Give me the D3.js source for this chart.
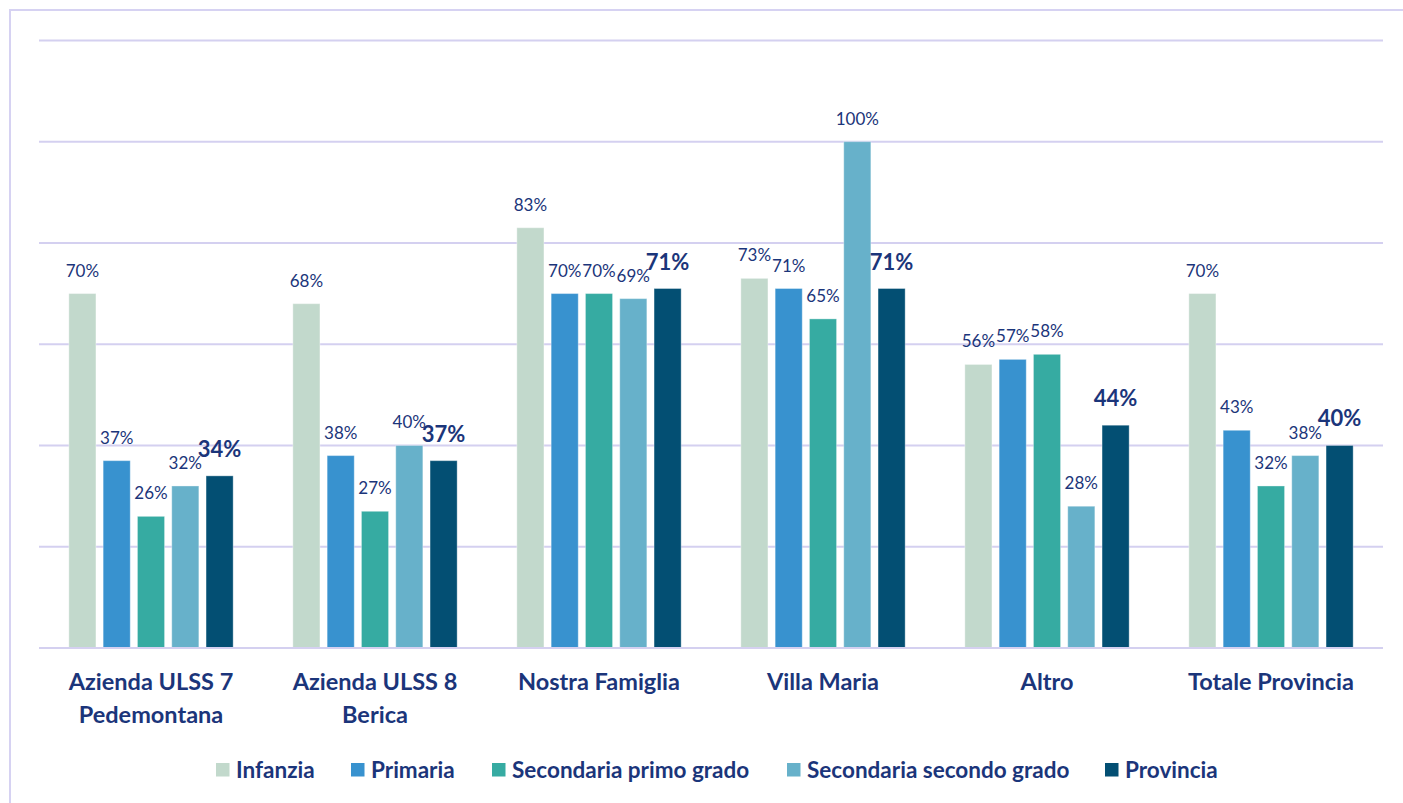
<!DOCTYPE html>
<html><head><meta charset="utf-8">
<script src="https://cdn.jsdelivr.net/npm/d3@7"></script>
<style>
html,body{margin:0;padding:0;background:#fff;}
svg{display:block;font-family:Lato,"Open Sans",sans-serif;}
</style></head>
<body><svg id="c" width="1403" height="803"></svg>
<script>
const categories = [["Azienda ULSS 7","Pedemontana"],["Azienda ULSS 8","Berica"],["Nostra Famiglia"],["Villa Maria"],["Altro"],["Totale Provincia"]];
const seriesNames = ["Infanzia","Primaria","Secondaria primo grado","Secondaria secondo grado","Provincia"];
const infanzia = [70,68,83,73,56,70];
const primaria = [37,38,70,71,57,43];
const secPrimo = [26,27,70,65,58,32];
const secSecondo = [32,40,69,100,28,38];
const provincia = [34,37,71,71,44,40];
const gridTicks = [0,20,40,60,80,100,120];
const colors = ["#c2d9cc","#3892cf","#36aba2","#67b1ca","#034f73"];
const textColor = "#1b357a";

const seriesValues = [infanzia, primaria, secPrimo, secSecondo, provincia];
const svg = d3.select("#c");

// frame
svg.append("path").attr("d","M10,803 L10,10 L1403,10").attr("fill","none").attr("stroke","#d6d2f2").attr("stroke-width",2);

const x0 = d3.scaleBand().domain(d3.range(categories.length)).range([39,1383]).paddingInner(0).paddingOuter(0);
const x1 = d3.scaleBand().domain(d3.range(seriesNames.length)).range([0, x0.bandwidth()]).paddingInner(0.21).paddingOuter(0.87);
const y = d3.scaleLinear().domain([0,120]).range([648,40.4]);

// grid
svg.append("g").selectAll("line").data(gridTicks).join("line")
  .attr("x1",39).attr("x2",1383).attr("y1",d=>y(d)).attr("y2",d=>y(d))
  .attr("stroke","#d4d0f0").attr("stroke-width",2);

const data = [];
categories.forEach((c,i)=>seriesValues.forEach((s,j)=>data.push({i,j,v:s[i]})));

svg.append("g").selectAll("rect").data(data).join("rect")
  .attr("x",d=>x0(d.i)+x1(d.j)).attr("width",x1.bandwidth())
  .attr("y",d=>y(d.v)).attr("height",d=>y(0)-y(d.v))
  .attr("fill",d=>colors[d.j]).attr("stroke","#ffffff").attr("stroke-opacity",0.35).attr("stroke-width",1);

svg.append("line").attr("x1",39).attr("x2",1383).attr("y1",y(0)).attr("y2",y(0)).attr("stroke","#d4d0f0").attr("stroke-width",2);

svg.append("g").selectAll("text").data(data).join("text")
  .attr("x",d=>x0(d.i)+x1(d.j)+x1.bandwidth()/2)
  .attr("y",d=>y(d.v)-(d.j===4?19:17))
  .attr("text-anchor","middle")
  .attr("fill",textColor)
  .attr("font-size",d=>d.j===4?22:17)
  .attr("font-weight",d=>d.j===4?"bold":"normal")
  .text(d=>d.v+"%");

// category labels
const cat = svg.append("g").selectAll("text").data(categories).join("text")
  .attr("x",(d,i)=>x0(i)+x0.bandwidth()/2)
  .attr("y",690)
  .attr("text-anchor","middle").attr("fill",textColor)
  .attr("font-size",23.5).attr("font-weight","bold");
cat.each(function(d){
  const t=d3.select(this);
  d.forEach((line,k)=>t.append("tspan").attr("x",t.attr("x")).attr("dy",k===0?0:33).text(line));
});

// legend
const legX = [216,351,492,787,1105];
const leg = svg.append("g").selectAll("g").data(seriesNames).join("g")
  .attr("transform",(d,i)=>`translate(${legX[i]},770)`);
leg.append("rect").attr("x",0).attr("y",-7).attr("width",13.5).attr("height",13.5).attr("fill",(d,i)=>colors[i]);
leg.append("text").attr("x",20).attr("y",7.5).attr("fill",textColor).attr("font-size",22.5).attr("font-weight","bold").text(d=>d);
</script></body></html>
